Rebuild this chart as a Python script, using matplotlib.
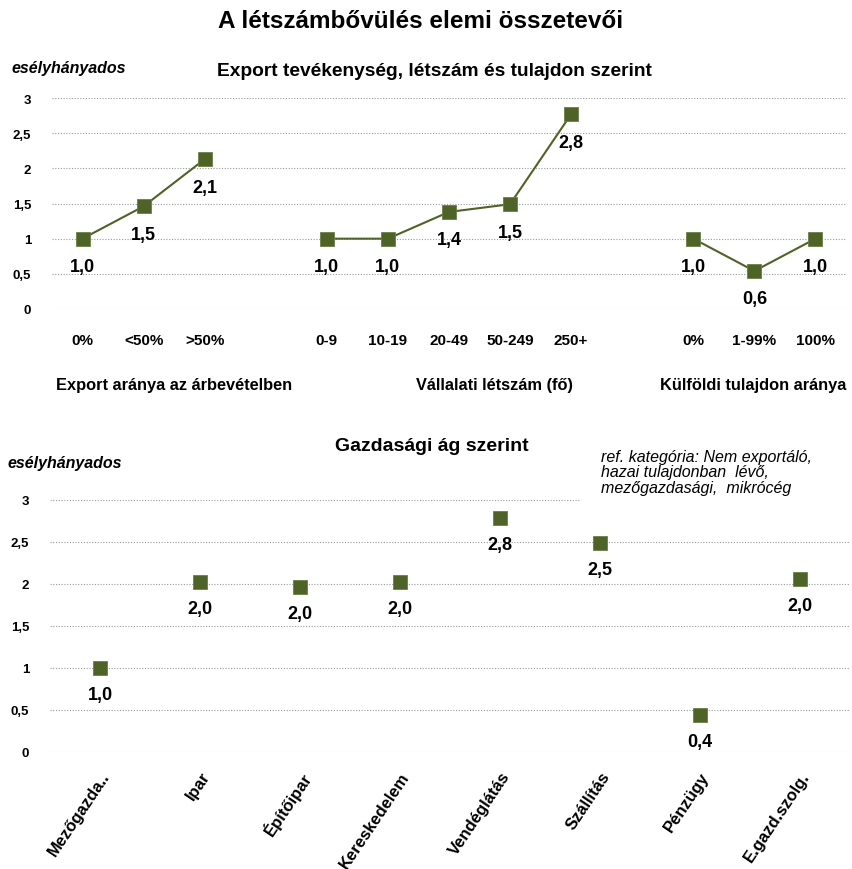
import matplotlib
matplotlib.use("Agg")
import matplotlib.pyplot as plt
from matplotlib.ticker import FuncFormatter

plt.rcParams['font.family'] = ['Liberation Sans', 'DejaVu Sans']

# ---- data ----
export_cats = ["0%", "<50%", ">50%"]
export_vals = [1.0, 1.46, 2.13]
export_lbls = ["1,0", "1,5", "2,1"]

size_cats = ["0-9", "10-19", "20-49", "50-249", "250+"]
size_vals = [1.0, 1.0, 1.38, 1.49, 2.77]
size_lbls = ["1,0", "1,0", "1,4", "1,5", "2,8"]

own_cats = ["0%", "1-99%", "100%"]
own_vals = [1.0, 0.54, 1.0]
own_lbls = ["1,0", "0,6", "1,0"]

group_titles = ["Export aránya az árbevételben", "Vállalati létszám (fő)", "Külföldi tulajdon aránya"]

sector_cats = ["Mezőgazda..", "Ipar", "Építőipar", "Kereskedelem", "Vendéglátás",
               "Szállítás", "Pénzügy", "E.gazd.szolg."]
sector_vals = [1.0, 2.02, 1.97, 2.02, 2.79, 2.49, 0.44, 2.06]
sector_lbls = ["1,0", "2,0", "2,0", "2,0", "2,8", "2,5", "0,4", "2,0"]

yticks = [0, 0.5, 1, 1.5, 2, 2.5, 3]

GREEN = '#4F6228'
GRID = '#9a9a9a'

W, H = 853, 870
fig = plt.figure(figsize=(W / 100, H / 100), dpi=100)

def fx(px):
    return px / W

def fy(py):
    return 1 - py / H

def comma(v, pos):
    return ('%g' % v).replace('.', ',')

def style_axes(ax, top_xmax=1.0):
    for sp in ax.spines.values():
        sp.set_visible(False)
    ax.set_ylim(0, 3)
    ax.set_yticks(yticks)
    ax.yaxis.set_major_formatter(FuncFormatter(comma))
    ax.tick_params(axis='y', length=0, pad=15, labelsize=9.5)
    ax.tick_params(axis='x', length=0)
    for lab in ax.get_yticklabels():
        lab.set_fontweight('bold')
    for y in yticks:
        xmax = top_xmax if y == 3 else 1.0
        ax.axhline(y, xmax=xmax, color=GRID, lw=0.8, ls=(0, (1, 1.5)), zorder=0)

# ---- top chart ----
ax1 = fig.add_axes([fx(52), fy(310), fx(846 - 52), (310 - 99) / H])
style_axes(ax1)
ax1.set_xlim(-0.5, 12.5)

groups = [(0, export_cats, export_vals, export_lbls),
          (4, size_cats, size_vals, size_lbls),
          (10, own_cats, own_vals, own_lbls)]
xt, xl = [], []
for start, cats, vals, lbls in groups:
    xs = list(range(start, start + len(cats)))
    ax1.plot(xs, vals, color=GREEN, lw=1.5, marker='s', ms=10,
             mfc=GREEN, mec='#6b7f45', mew=0.6, zorder=3, clip_on=False)
    for x, v, l in zip(xs, vals, lbls):
        ax1.annotate(l, (x, v), xytext=(0, -14), textcoords='offset points',
                     ha='center', va='top', fontsize=13, fontweight='bold')
    xt += xs
    xl += cats
ax1.set_xticks(xt)
ax1.set_xticklabels(xl, fontsize=11, fontweight='bold')
ax1.tick_params(axis='x', pad=17)

group_x = [1.5, 6.75, 9.45]
group_ha = ['center', 'center', 'left']
for gx, t, ha in zip(group_x, group_titles, group_ha):
    ax1.text(gx, -1.07, t, ha=ha, va='center', fontsize=11.8, fontweight='bold',
             transform=ax1.transData, clip_on=False)

# ---- bottom chart ----
ax2 = fig.add_axes([fx(50), fy(753), fx(850 - 50), (753 - 501) / H])
style_axes(ax2, top_xmax=(580 - 50) / 800)
ax2.set_xlim(-0.5, 7.5)
xs2 = list(range(len(sector_cats)))
ax2.plot(xs2, sector_vals, ls='none', marker='s', ms=10, mfc=GREEN,
         mec='#6b7f45', mew=0.6, zorder=3, clip_on=False)
for x, v, l in zip(xs2, sector_vals, sector_lbls):
    ax2.annotate(l, (x, v), xytext=(0, -13), textcoords='offset points',
                 ha='center', va='top', fontsize=13, fontweight='bold')
ax2.set_xticks(xs2)
ax2.set_xticklabels(sector_cats, rotation=56, ha='right', va='top',
                    rotation_mode='anchor', fontsize=12, fontweight='bold')
ax2.tick_params(axis='x', pad=12)

# ---- texts ----
fig.text(fx(421), fy(21), "A létszámbővülés elemi összetevői", ha='center', va='center',
         fontsize=17.5, fontweight='bold')
fig.text(fx(434), fy(72), "Export tevékenység, létszám és tulajdon szerint", ha='center',
         va='center', fontsize=13.8, fontweight='bold')
fig.text(fx(12), fy(69), "esélyhányados", ha='left', va='center', fontsize=11.5,
         fontweight='bold', style='italic')
fig.text(fx(432), fy(447), "Gazdasági ág szerint", ha='center', va='center',
         fontsize=14, fontweight='bold')
fig.text(fx(8), fy(464), "esélyhányados", ha='left', va='center', fontsize=11.5,
         fontweight='bold', style='italic')
fig.text(fx(601), fy(473), "ref. kategória: Nem exportáló,\nhazai tulajdonban  lévő,\nmezőgazdasági,  mikrócég",
         ha='left', va='center', fontsize=11.5, style='italic', linespacing=1.08)

fig.savefig("out.png", dpi=100)
